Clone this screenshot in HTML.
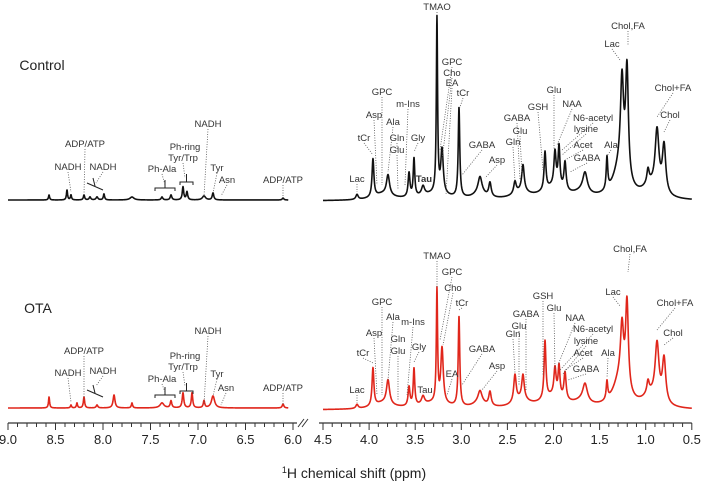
<!DOCTYPE html>
<html><head><meta charset="utf-8">
<style>
html,body{margin:0;padding:0;background:#fff;}
svg{display:block;font-family:"Liberation Sans",Arial,sans-serif;}
.lb{font-size:9.5px;fill:#333;text-anchor:middle;}
.ld{stroke:#555;stroke-width:0.8;stroke-dasharray:1 1.5;fill:none;}
</style></head>
<body>
<svg id="chart" width="708" height="483" viewBox="0 0 708 483">
<g id="traces"></g>
<g id="axis"></g>
<g id="labels"></g>
<text x="42" y="70" font-size="14" fill="#222" text-anchor="middle">Control</text>
<text x="38" y="313" font-size="14" fill="#222" text-anchor="middle">OTA</text>
<text x="354" y="478" font-size="14" fill="#222" text-anchor="middle"><tspan font-size="9" dy="-5">1</tspan><tspan dy="5">H chemical shift (ppm)</tspan></text>
</svg>
<script>
// ---- data (ppm, heights) ----
const leftCtrlPpm = [8.568,8.379,8.337,8.2,8.137,8.063,7.99,7.695,7.379,7.284,7.158,7.116,6.937,6.842,6.105];
const leftCtrlH   = [5,10,5,5,3,3,6,3,3,5,13,8,4,7,2];
const leftOtaPpm  = [8.568,8.337,8.274,8.2,8.063,7.884,7.695,7.379,7.284,7.158,7.063,6.937,6.842,6.105];
const leftOtaH    = [11,3,5,11,3,13,5,5,7,15,15,7,12,4];
const leftW = [0.007,0.007,0.007,0.008,0.01,0.012,0.008,0.025,0.01,0.01,0.009,0.009,0.02,0.01,0.01];
const rightPpm = [4.131,3.958,3.795,3.567,3.513,3.415,3.264,3.209,3.025,2.797,2.689,2.418,2.331,2.092,1.984,1.940,1.875,1.658,1.420,1.257,1.203,0.975,0.877,0.801];
const rightW   = [0.015,0.012,0.02,0.012,0.01,0.02,0.008,0.016,0.01,0.025,0.016,0.016,0.016,0.012,0.014,0.012,0.014,0.03,0.01,0.02,0.018,0.015,0.025,0.022];
const rightCtrlH = [5,38,20,24,38,9,175,44,90,16,14,12,26,38,34,40,28,20,32,90,110,14,60,48];
const rightOtaH  = [4,38,24,19,37,8,112,55,90,11,14,27,24,58,27,30,27,18,18,55,88,12,56,44];
const bgPpm = [3.85,3.3,2.8,2.35,2.0,1.7,1.28,0.95];
const bgW   = [0.12,0.2,0.08,0.1,0.15,0.1,0.09,0.1];
const bgCtrlH = [6,6,6,7,12,5,30,12];
const bgOtaH  = [6,6,6,8,12,5,28,12];

const xL = p => 8 + (9 - p) * 95;
const xR = p => 323 + (4.5 - p) * 92.2;
const NS = "http://www.w3.org/2000/svg";
function mk(tag, attrs, parent){const e=document.createElementNS(NS,tag);for(const k in attrs)e.setAttribute(k,attrs[k]);parent.appendChild(e);return e;}
function lor(p,c,h,w){const d=(p-c)/w;return h/(1+d*d);}

function trace(ppmArr,hArr,wArr,bgH,from,to,xf,base,color,name){
  let d="";
  for(let p=from;p>=to-1e-9;p-=0.002){
    let s=0;
    for(let i=0;i<ppmArr.length;i++) s+=lor(p,ppmArr[i],hArr[i],wArr?wArr[i]:0.008);
    if(bgH) for(let i=0;i<bgPpm.length;i++) s+=lor(p,bgPpm[i],bgH[i],bgW[i]);
    d+=(d?"L":"M")+xf(p).toFixed(2)+","+(base-s).toFixed(2);
  }
  const el=mk("path",{d:d,fill:"none",stroke:color,"stroke-width":1.6,"stroke-linejoin":"round"},document.getElementById("traces"));
  
  
}
trace(leftCtrlPpm,leftCtrlH,leftW,null,9.0,6.05,xL,200,"#111","control-aromatic-trace");
trace(leftOtaPpm,leftOtaH,leftW,null,9.0,6.05,xL,408,"#e0261b","ota-aromatic-trace");
trace(rightPpm,rightCtrlH,rightW,bgCtrlH,4.5,0.5,xR,201,"#111","control-aliphatic-trace");
trace(rightPpm,rightOtaH,rightW,bgOtaH,4.5,0.5,xR,410,"#e0261b","ota-aliphatic-trace");

// ---- axis ----
const ax=document.getElementById("axis");
const leftTicks=["9.0","8.5","8.0","7.5","7.0","6.5","6.0"];
const rightTicks=["4.5","4.0","3.5","3.0","2.5","2.0","1.5","1.0","0.5"];
mk("line",{x1:xL(9),x2:xL(6)+4,y1:423,y2:423,stroke:"#333","stroke-width":1.3},ax);
mk("line",{x1:xR(4.5)-4,x2:xR(0.5),y1:423,y2:423,stroke:"#333","stroke-width":1.3},ax);
mk("path",{d:"M298,427L304,419M302,427L308,419",stroke:"#333","stroke-width":1,fill:"none"},ax);
for(let k=0;k<=30;k++){const p=9-k*0.1;const maj=k%5==0;mk("line",{x1:xL(p),x2:xL(p),y1:423,y2:maj?430:427,stroke:"#333","stroke-width":1},ax);}
for(let k=0;k<=40;k++){const p=4.5-k*0.1;const maj=k%5==0;mk("line",{x1:xR(p),x2:xR(p),y1:423,y2:maj?430:427,stroke:"#333","stroke-width":1},ax);}
leftTicks.forEach(t=>{const e=mk("text",{x:xL(+t),y:444,"font-size":13,fill:"#222","text-anchor":"middle"},ax);e.textContent=t;
  
  });
rightTicks.forEach(t=>{const e=mk("text",{x:xR(+t),y:444,"font-size":13,fill:"#222","text-anchor":"middle"},ax);e.textContent=t;
  
  });

// ---- annotations [text, x, y(baseline), lineToX, lineToY] ----
const L=document.getElementById("labels");
const ann=[
 ["TMAO",437,10,437,14],["Chol,FA",628,29,628,45],["Lac",612,47,620,60],["Chol+FA",673,91,657,117],["Chol",670,118,664,132],
 ["GPC",452,65,440,150],["Cho",452,76,442,160],["EA",452,86,446,195],["tCr",463,96,459,110],["GPC",382,95,382,185],
 ["m-Ins",408,107,405,185],["Asp",374,118,377,185],["Ala",393,125,388,172],["Gln",397,141,397,150],["Glu",397,153,398,190],
 ["Gly",418,141,414,152],["tCr",364,141,373,155],["Lac",357,182,357,192],["GABA",482,148,462,175],["Asp",497,163,485,178],
 ["GSH",538,110,543,170],["GABA",517,121,520,180],["Glu",520,134,522,175],["Gln",513,145,515,182],["Glu",554,93,554,150],
 ["NAA",572,107,557,145],["N6-acetyl",593,121,562,150],["lysine",586,132,562,155],["Acet",583,148,565,160],["GABA",587,161,570,172],["Ala",611,148,607,156],
 ["TMAO",437,259,437,287],["GPC",452,275,440,340],["Cho",453,291,443,345],["tCr",462,306,459,310],["EA",452,377,447,395],
 ["GPC",382,305,382,395],["Ala",393,320,388,380],["m-Ins",413,325,407,395],["Asp",374,336,377,395],["Gln",398,342,398,345],
 ["Glu",398,354,398,400],["Gly",419,350,414,362],["tCr",363,356,373,363],["Lac",357,393,357,403],["Tau",425,393,425,393],
 ["GABA",482,352,462,385],["Asp",497,369,482,390],["GSH",543,299,543,375],["Glu",554,311,555,370],["NAA",575,321,558,365],
 ["N6-acetyl",593,332,560,370],["lysine",586,344,562,375],["Acet",583,356,565,370],["GABA",586,372,568,380],["GABA",526,317,526,390],
 ["Glu",519,329,519,385],["Gln",513,337,515,373],["Ala",608,356,607,378],["Lac",613,295,620,306],["Chol,FA",630,252,628,272],
 ["Chol+FA",675,306,657,330],["Chol",673,336,664,345],
 ["ADP/ATP",85,147,84,195],["NADH",68,170,71,192],["NADH",103,170,96,183],["Ph-Ala",162,172,165,185],["Ph-ring",185,150,185,150],
 ["Tyr/Trp",183,161,185,178],["NADH",208,127,204,196],["Tyr",217,171,213,193],["Asn",227,183,221,196],["ADP/ATP",283,183,283,198],
 ["ADP/ATP",84,354,84,400],["NADH",68,376,71,402],["NADH",103,374,96,386],["Ph-Ala",162,382,165,392],["Ph-ring",185,359,185,359],
 ["Tyr/Trp",183,370,185,386],["NADH",208,334,204,404],["Tyr",217,377,213,396],["Asn",226,391,221,405],["ADP/ATP",283,391,283,405]
];
ann.forEach(a=>{
  const t=mk("text",{x:a[1],y:a[2],class:"lb"},L);t.textContent=a[0];
  
  
  if(a[4]>a[2]+3){mk("path",{d:`M${a[1]},${a[2]+2}L${a[3]},${a[4]}`,class:"ld"},L);}
});
const tau=mk("text",{x:424,y:182,class:"lb","font-weight":"bold"},L);tau.textContent="Tau";


// brackets
[[155,175,188],[180,193,182],[155,175,395],[180,193,391]].forEach(b=>{
  mk("path",{d:`M${b[0]},${b[2]+3}V${b[2]}H${b[1]}V${b[2]+3}M${(b[0]+b[1])/2},${b[2]}V${b[2]-8}`,stroke:"#222","stroke-width":1,fill:"none"},L);
});
mk("path",{d:"M87,183L103,190M95,186L93,178",stroke:"#222","stroke-width":1,fill:"none"},L);
mk("path",{d:"M87,390L103,397M95,393L93,385",stroke:"#222","stroke-width":1,fill:"none"},L);
</script>
</body></html>
